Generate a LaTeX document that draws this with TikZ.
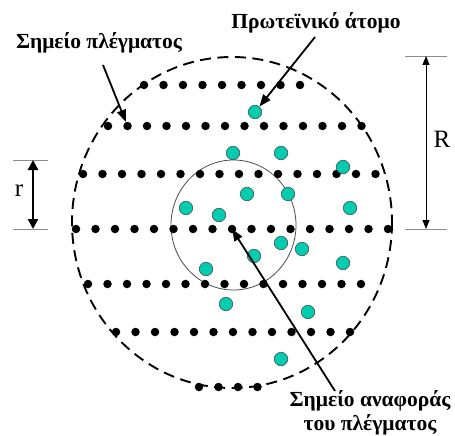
\documentclass[tikz,border=0pt]{standalone}
\usepackage{fontspec}
\setmainfont{Liberation Serif}
\usetikzlibrary{arrows.meta}
\definecolor{atomcol}{RGB}{0,204,176}

\begin{document}
\begin{tikzpicture}[x=1pt, y=-1pt,
    lattice/.style={circle, fill=black, inner sep=0pt, minimum size=8.5pt},
    atom/.style={circle, draw=black!70, fill=atomcol, inner sep=0pt, minimum size=13.5pt, line width=0.6pt},
    lbl/.style={font=\fontsize{21.5}{24}\selectfont\bfseries, inner sep=0pt, align=center},
    pointer/.style={line width=1.8pt, -{Triangle[length=12pt,width=9pt]}},
    tick/.style={black!45, line width=0.9pt}]
  \useasboundingbox (0,0) rectangle (455,436);
  % outer (dashed) and inner sphere
  \draw[dash pattern=on 11pt off 6.5pt, line width=1.9pt] (232,222.5) ellipse [x radius=160, y radius=165.5];
  \draw[black!70, line width=0.8pt] (233.5,225) ellipse [x radius=62.5, y radius=65];
  % lattice rows: y / first x / number of points
  \foreach \y/\xa/\n [count=\r] in {85/144/9, 126/108/14, 174/83/16, 229/76/17, 284/88/15, 332/116/13, 387/199/4}
    \foreach \i in {1,...,\n}
      \node[lattice] (d\r-\i) at ({\xa+(\i-1)*19.5},\y) {};
  % protein atoms
  \foreach \p [count=\k] in {(255,112), (233,153), (281,153), (343,167), (247,194), (288,194),
      (186,208), (350,208), (219,215), (281,243), (302,249), (254,256), (343,263), (206,269),
      (226,304), (308,312), (281,359)}
    \node[atom] (a\k) at \p {};
  % labels
  \node[lbl] (lpt) at (99,43) {Σημείο πλέγματος};
  \node[lbl] (lpa) at (316,23) {Πρωτεϊνικό άτομο};
  \node[lbl] (lref) at (370,413) {Σημείο αναφοράς\\του πλέγματος};
  \coordinate (lpt-tail) at (103,65);
  \coordinate (lpa-tail) at (315,37);
  \coordinate (lref-tail) at (335,391);
  \draw[pointer] (lpt-tail) -- (d2-2);
  \draw[pointer] (lpa-tail) -- (a1);
  \draw[pointer] (lref-tail) -- (d4-9.center);
  % R and r
  \coordinate (Rtop) at (426,56);
  \coordinate (Rbot) at (426,229);
  \coordinate (rtop) at (33,160);
  \coordinate (rbot) at (33,229);
  \draw[tick] ([xshift=-21pt]Rtop) -- ([xshift=21pt]Rtop);
  \draw[tick] ([xshift=-21pt]Rbot) -- ([xshift=21pt]Rbot);
  \draw[tick] ([xshift=-20pt]rtop) -- ([xshift=15pt]rtop);
  \draw[tick] ([xshift=-20pt]rbot) -- ([xshift=15pt]rbot);
  \draw[line width=0.9pt, {Triangle[length=9pt,width=7pt]}-{Triangle[length=9pt,width=7pt]}] (Rtop) -- (Rbot);
  \draw[line width=2.6pt, {Triangle[length=10pt,width=10pt]}-{Triangle[length=10pt,width=10pt]}] (rtop) -- (rbot);
  \node[font=\fontsize{25}{26}\selectfont] (Rl) at (442,139) {R};
  \node[font=\fontsize{25}{26}\selectfont] (rl) at (19,191) {r};
\end{tikzpicture}
\end{document}
